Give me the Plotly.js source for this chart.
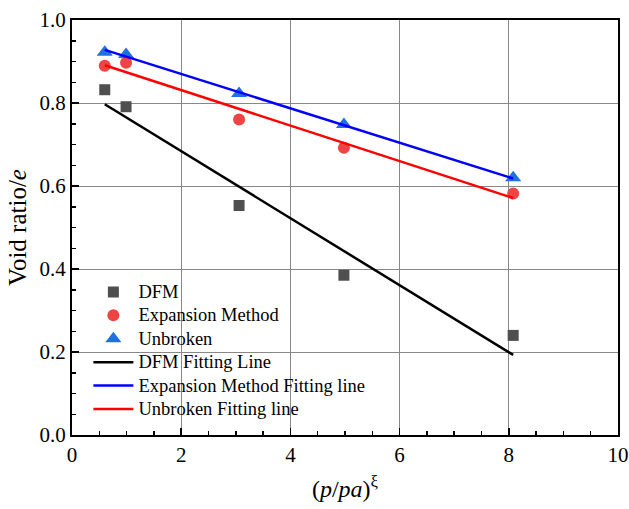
<!DOCTYPE html>
<html>
<head>
<meta charset="utf-8">
<script src="https://cdn.plot.ly/plotly-3.0.1.min.js"></script>
<style>html,body{margin:0;padding:0;background:#fff;}#chart{width:629px;height:509px;}</style>
</head>
<body>
<div id="chart"></div>
<script>
const xPts = [0.6, 0.99, 3.06, 4.98, 8.08];
const dfm = [0.832, 0.791, 0.553, 0.385, 0.240];
const expansion = [0.890, 0.897, 0.760, 0.692, 0.582];
const unbroken = [0.922, 0.917, 0.823, 0.748, 0.620];
const fitX = [0.6, 8.08];
const dfmFit = [0.797, 0.193];
const expansionFit = [0.928, 0.618];
const unbrokenFit = [0.891, 0.571];
const seriesNames = ['DFM', 'Expansion Method', 'Unbroken', 'DFM Fitting Line', 'Expansion Method Fitting line', 'Unbroken Fitting line'];

const serif = 'Liberation Serif, Times New Roman, serif';
const nm = s => '<span style="font-size:18.5px">' + s + '</span>';
const traces = [
  {x: xPts, y: dfm, mode: 'markers', name: nm(seriesNames[0]), marker: {symbol: 'square', size: 11, color: '#4f4f4f'}},
  {x: xPts, y: expansion, mode: 'markers', name: nm(seriesNames[1]), marker: {symbol: 'circle', size: 12, color: '#ee4444'}},
  {x: xPts, y: unbroken, mode: 'markers', name: nm(seriesNames[2]), marker: {symbol: 'triangle-up', size: 14, color: '#2070e0'}},
  {x: fitX, y: dfmFit, mode: 'lines', name: nm(seriesNames[3]), line: {color: '#000000', width: 2.5}},
  {x: fitX, y: expansionFit, mode: 'lines', name: nm(seriesNames[4]), line: {color: '#0000ff', width: 2.5}},
  {x: fitX, y: unbrokenFit, mode: 'lines', name: nm(seriesNames[5]), line: {color: '#ff0000', width: 2.5}}
];

const axisCommon = {
  showline: true, linecolor: '#000', linewidth: 2, mirror: true,
  ticks: 'inside', ticklen: 7, tickwidth: 1.5, tickcolor: '#000',
  showgrid: true, gridcolor: '#888', gridwidth: 1,
  zeroline: false,
  tickfont: {family: serif, size: 21, color: '#000'},
  minor: {ticks: 'inside', ticklen: 4, tickwidth: 1.5, tickcolor: '#000', showgrid: false}
};

const layout = {
  width: 629, height: 509,
  margin: {l: 72, r: 11, t: 20, b: 74},
  paper_bgcolor: '#fff', plot_bgcolor: '#fff',
  showlegend: true,
  legend: {x: 0.03, y: 0.385, xanchor: 'left', yanchor: 'top', bgcolor: 'rgba(0,0,0,0)',
    font: {family: serif, size: 15.7, color: '#000'}, tracegroupgap: 0, itemwidth: 40},
  xaxis: Object.assign({}, axisCommon, {range: [0, 10], dtick: 2, tick0: 0,
    title: {text: '(<i>p</i>/<i>pa</i>)<sup>ξ</sup>', font: {family: serif, size: 24, color: '#000'}, standoff: 14}}),
  yaxis: Object.assign({}, axisCommon, {range: [0, 1], dtick: 0.2, tick0: 0, tickformat: '.1f',
    title: {text: 'Void ratio/<i>e</i>', font: {family: serif, size: 25, color: '#000'}, standoff: 6}})
};

Plotly.newPlot('chart', traces, layout, {displayModeBar: false, staticPlot: true});
</script>
</body>
</html>
